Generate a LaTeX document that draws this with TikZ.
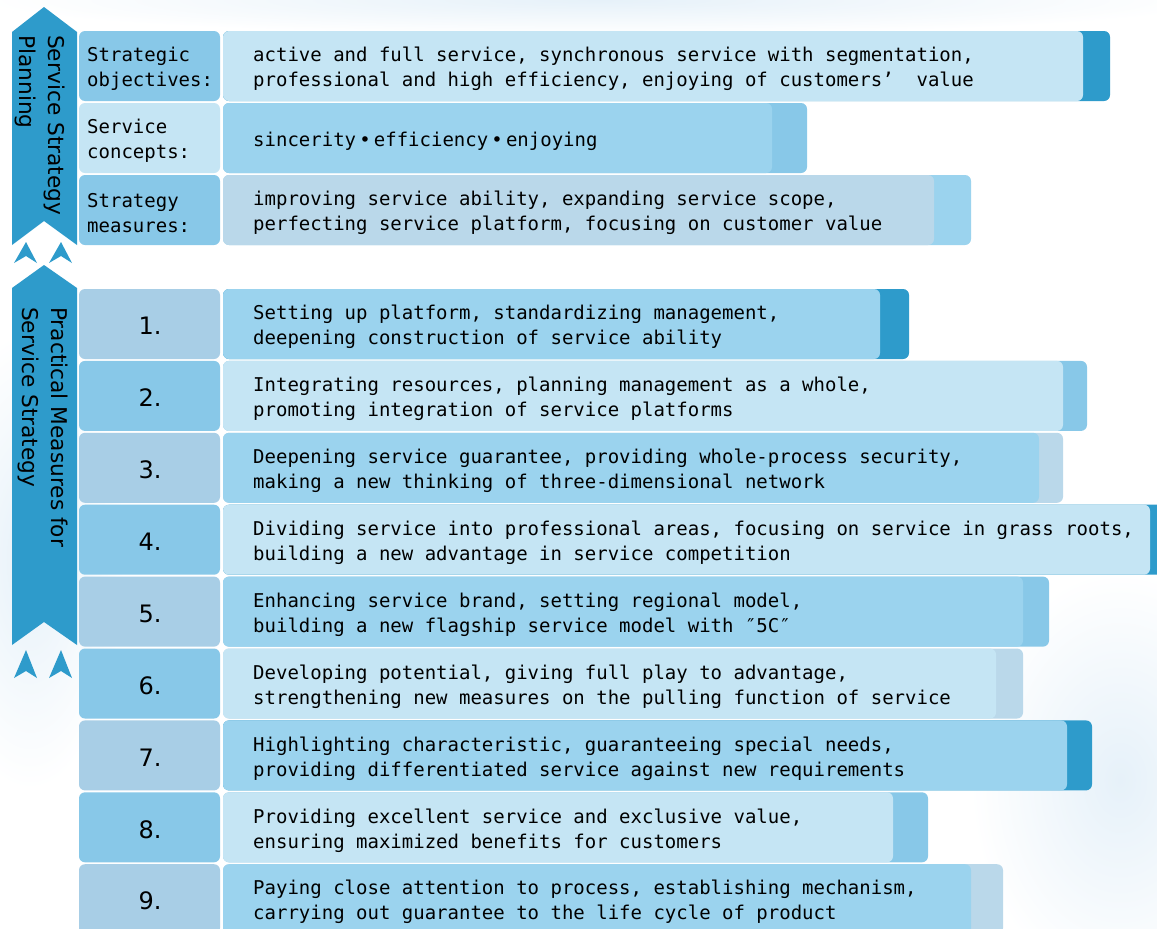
\documentclass[tikz,border=0pt]{standalone}
\usepackage{fontspec}
\setmainfont{DejaVu Sans}
\newfontfamily\monofont{DejaVu Sans Mono}
\usepackage{xcolor}
\usepackage{tikz}
\usetikzlibrary{positioning, calc}

\definecolor{darkblue}{RGB}{46,155,203}
\definecolor{midblue}{RGB}{136,200,232}
\definecolor{paleblue}{RGB}{155,211,238}
\definecolor{lightblue}{RGB}{197,229,244}
\definecolor{greyblue}{RGB}{186,216,234}
\definecolor{labelgrey}{RGB}{168,206,230}
\definecolor{cloud}{RGB}{230,241,249}

\tikzset{
  box/.style={rounded corners=6pt},
  rowtext/.style={anchor=west, align=left, inner sep=0pt, font=\monofont\fontsize{19}{25}\selectfont},
  numtext/.style={inner sep=0pt, font=\fontsize{24}{28}\selectfont},
  sidetext/.style={rotate=-90, anchor=north west, align=left, inner sep=0pt, font=\fontsize{21.7}{29}\selectfont},
}

\begin{document}
\begin{tikzpicture}[x=1pt, y=-1pt]
      \clip (0,0) rectangle (1157,929);
      \fill[white] (0,0) rectangle (1157,929);
      \shade[inner color=cloud, outer color=white] (30,560) ellipse (95 and 230);
      \shade[inner color=cloud, outer color=white] (1120,780) ellipse (150 and 210);
      \shade[inner color=cloud, outer color=white] (600,0) ellipse (620 and 35);

      \fill[darkblue] (12,32) -- (44,7) -- (77,32) -- (77,245) -- (44,221) -- (12,245) -- cycle;
      \node[sidetext] (plan) at (65,35) {Service Strategy\\Planning};
      \foreach \cx in {26,61}
        \fill[darkblue] (\cx,242) -- (\cx+11,263) -- (\cx,256) -- (\cx-12,263) -- cycle;

      \fill[darkblue] (12,288) -- (44,265) -- (77,288) -- (77,645) -- (44,622) -- (12,645) -- cycle;
      \node[sidetext] (practice) at (68,307) {Practical Measures for\\Service Strategy};
      \foreach \cx in {26,61}
        \fill[darkblue] (\cx,650) -- (\cx+11,678) -- (\cx,671) -- (\cx-12,678) -- cycle;

      \foreach \i/\lab/\fr/\bk/\fc/\bc/\lc/\txt in {
          1/{Strategic\\objectives:}/1083/1110/lightblue/darkblue/midblue/{active and full service, synchronous service with segmentation,\\professional and high efficiency, enjoying of customers’\ \ value},
          2/{Service\\concepts:}/772/807/paleblue/midblue/lightblue/{sincerity\,•\,efficiency\,•\,enjoying},
          3/{Strategy\\measures:}/934/971/greyblue/paleblue/midblue/{improving service ability, expanding service scope,\\perfecting service platform, focusing on customer value}} {
        \pgfmathsetmacro\yt{31+(\i-1)*72}
        \fill[\lc, box] (79,\yt) rectangle (220,\yt+70);
        \fill[\bc, box] (223,\yt) rectangle (\bk,\yt+70);
        \fill[\fc, box] (223,\yt) rectangle (\fr,\yt+70);
        \node[rowtext] (key\i) at (87,\yt+38) {\lab};
        \node[rowtext] (aim\i) at (253,\yt+38) {\txt};
      }

      \foreach \i/\fr/\bk/\fc/\bc/\lc/\txt in {
          1/880/909/paleblue/darkblue/labelgrey/{Setting up platform, standardizing management,\\deepening construction of service ability},
          2/1063/1087/lightblue/midblue/midblue/{Integrating resources, planning management as a whole,\\promoting integration of service platforms},
          3/1039/1063/paleblue/greyblue/labelgrey/{Deepening service guarantee, providing whole-process security,\\making a new thinking of three-dimensional network},
          4/1150/1175/lightblue/darkblue/midblue/{Dividing service into professional areas, focusing on service in grass roots,\\building a new advantage in service competition},
          5/1023/1049/paleblue/midblue/labelgrey/{Enhancing service brand, setting regional model,\\building a new flagship service model with ″5C″},
          6/996/1023/lightblue/greyblue/midblue/{Developing potential, giving full play to advantage,\\strengthening new measures on the pulling function of service},
          7/1067/1092/paleblue/darkblue/labelgrey/{Highlighting characteristic, guaranteeing special needs,\\providing differentiated service against new requirements},
          8/893/928/lightblue/midblue/midblue/{Providing excellent service and exclusive value,\\ensuring maximized benefits for customers},
          9/971/1003/paleblue/greyblue/labelgrey/{Paying close attention to process, establishing mechanism,\\carrying out guarantee to the life cycle of product}} {
        \pgfmathsetmacro\yt{289+(\i-1)*71.9}
        \fill[\lc, box] (79,\yt) rectangle (220,\yt+70);
        \fill[\bc, box] (223,\yt) rectangle (\bk,\yt+70);
        \fill[\fc, box] (223,\yt) rectangle (\fr,\yt+70);
        \node[numtext] (num\i) at (150,\yt+37) {\i.};
        \node[rowtext] (step\i) at (253,\yt+38) {\txt};
      }
    \end{tikzpicture}
\end{document}
